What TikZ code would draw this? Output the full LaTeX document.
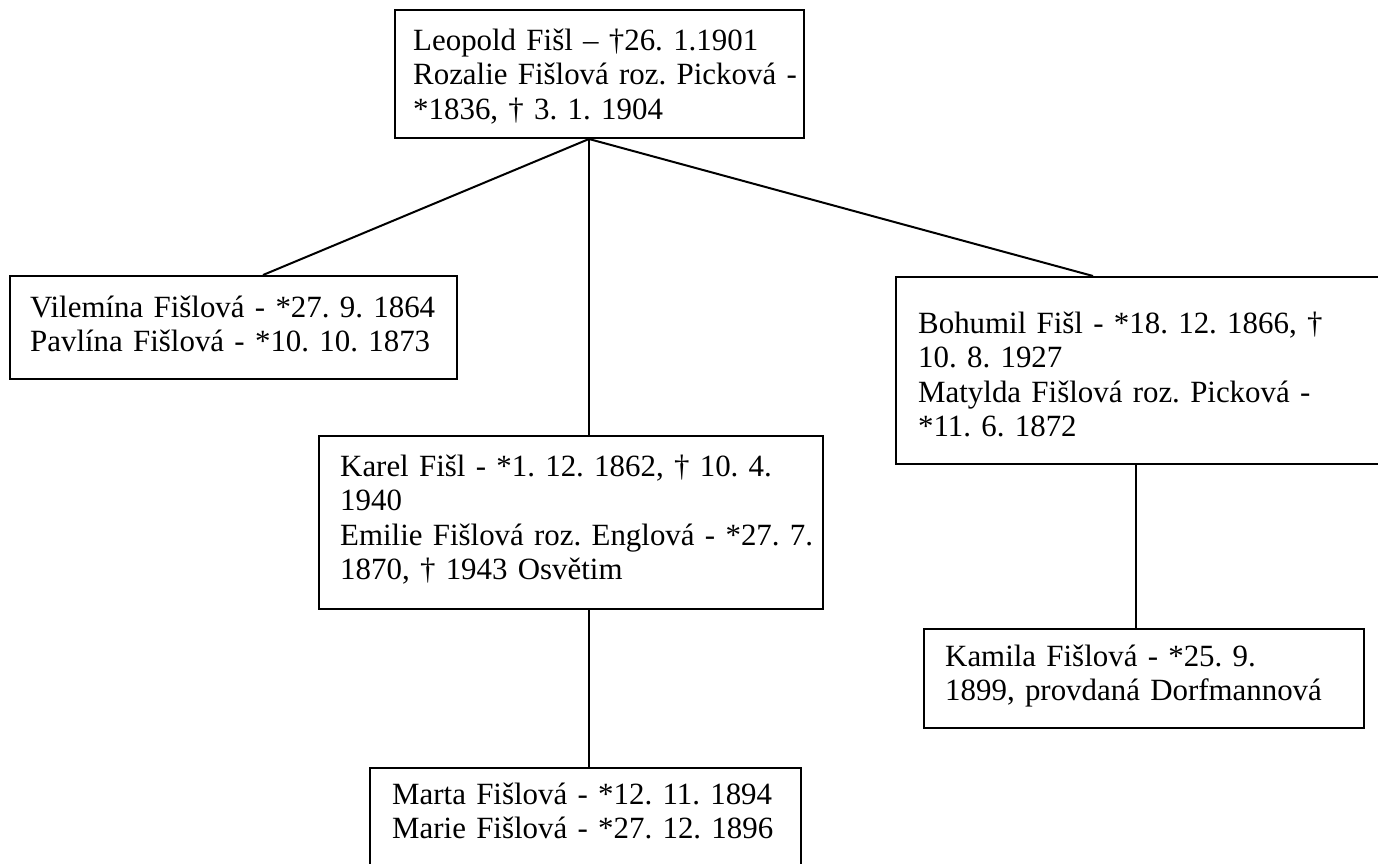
\documentclass[tikz,border=0pt]{standalone}
\usepackage{fontspec}
\setmainfont{Liberation Serif}
\usetikzlibrary{calc}
\frenchspacing
\begin{document}
\begin{tikzpicture}[x=1pt,y=-1pt,
  box/.style={draw, line width=2pt, inner sep=0pt, anchor=north west},
  txt/.style={anchor=base west, inner sep=0pt, align=left, text width=600pt,
    font=\fontsize{30.9}{34.5}\selectfont\frenchspacing},
  link/.style={line width=2pt}]
\useasboundingbox (0,0) rectangle (1378,863);
% boxes
\node[box, minimum width=409pt, minimum height=128pt] (top) at (394,9) {};
\node[box, minimum width=447pt, minimum height=103pt] (vil) at (9,275) {};
\node[box, minimum width=500pt, minimum height=187pt] (boh) at (895,276) {};
\node[box, minimum width=504pt, minimum height=173pt] (kar) at (318,435) {};
\node[box, minimum width=431pt, minimum height=120pt] (mar) at (369,767) {};
\node[box, minimum width=440pt, minimum height=99pt] (kam) at (923,628) {};
% texts
\node[txt] (topT) at (413,50) {Leopold Fišl – †26. 1.1901\\Rozalie Fišlová roz. Picková -\\{}*1836, † 3. 1. 1904};
\node[txt] (vilT) at (30,317) {Vilemína Fišlová - *27. 9. 1864\\Pavlína Fišlová - *10. 10. 1873};
\node[txt] (bohT) at (918,333) {Bohumil Fišl - *18. 12. 1866, †\\10. 8. 1927\\Matylda Fišlová roz. Picková -\\{}*11. 6. 1872};
\node[txt] (karT) at (340,476) {Karel Fišl - *1. 12. 1862, † 10. 4.\\1940\\Emilie Fišlová roz. Englová - *27. 7.\\1870, † 1943 Osvětim};
\node[txt] (marT) at (392,804) {Marta Fišlová - *12. 11. 1894\\Marie Fišlová - *27. 12. 1896};
\node[txt] (kamT) at (945,666) {Kamila Fišlová - *25. 9.\\1899, provdaná Dorfmannová};
% connector points
\coordinate (topB) at ($(top.south west)+(195,0)$);
\coordinate (vilA) at ($(vil.north west)+(254,0)$);
\coordinate (karA) at ($(kar.north west)+(271,0)$);
\coordinate (karB) at ($(kar.south west)+(271,0)$);
\coordinate (bohA) at ($(boh.north west)+(198,0)$);
\coordinate (bohB) at ($(boh.south west)+(241,0)$);
\coordinate (marA) at ($(mar.north west)+(220,0)$);
\coordinate (kamA) at ($(kam.north west)+(213,0)$);
% connectors
\draw[link] (topB) -- (vilA);
\draw[link] (topB) -- (karA);
\draw[link] (topB) -- (bohA);
\draw[link] (karB) -- (marA);
\draw[link] (bohB) -- (kamA);
\end{tikzpicture}
\end{document}
